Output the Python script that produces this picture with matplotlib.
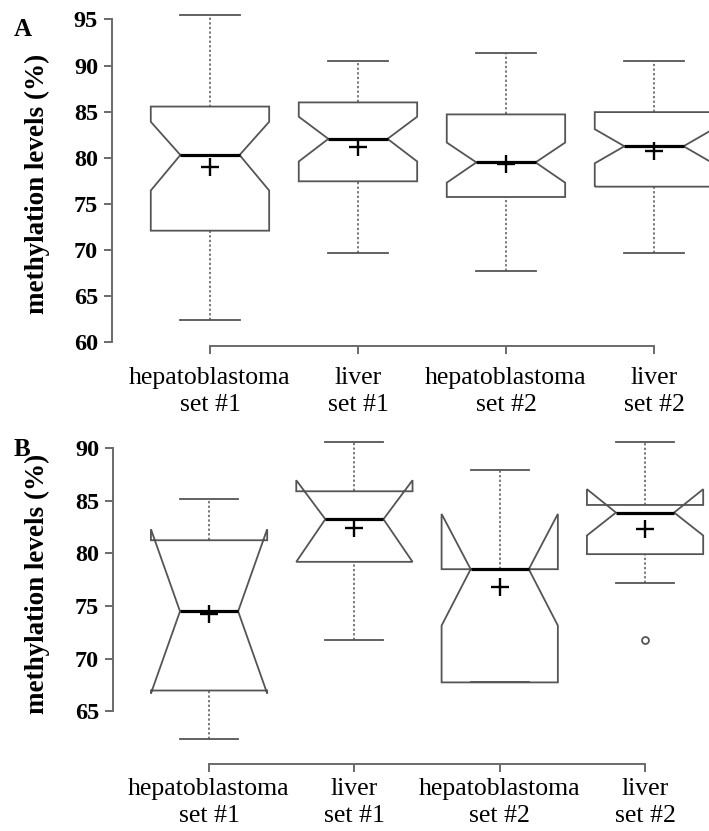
import matplotlib
matplotlib.use("Agg")
import matplotlib.pyplot as plt
from matplotlib.patches import Polygon

plt.rcParams['font.family'] = ['Liberation Serif', 'DejaVu Serif']

categories = ["hepatoblastoma\nset #1", "liver\nset #1", "hepatoblastoma\nset #2", "liver\nset #2"]

# Panel A statistics
a_whislo = [62.4, 69.65, 67.7, 69.65]
a_q1 = [72.1, 77.45, 75.75, 76.87]
a_notch_lo = [76.45, 79.6, 77.3, 79.4]
a_med = [80.3, 82.05, 79.5, 81.25]
a_notch_hi = [83.9, 84.45, 81.65, 83.1]
a_q3 = [85.55, 86.0, 84.7, 84.95]
a_whishi = [95.45, 90.5, 91.4, 90.5]
a_mean = [79.05, 81.15, 79.35, 80.7]
a_outliers = [[], [], [], []]
a_ticks = [60, 65, 70, 75, 80, 85, 90, 95]

# Panel B statistics
b_whislo = [62.35, 71.8, 67.75, 77.2]
b_q1 = [66.98, 79.2, 67.75, 79.93]
b_notch_lo = [66.7, 79.2, 73.15, 81.7]
b_med = [74.5, 83.25, 78.5, 83.88]
b_notch_hi = [82.3, 86.95, 83.75, 86.1]
b_q3 = [81.25, 85.9, 78.5, 84.6]
b_whishi = [85.2, 90.55, 87.9, 90.55]
b_mean = [74.2, 82.45, 76.8, 82.3]
b_outliers = [[], [], [], [71.8]]
b_ticks = [65, 70, 75, 80, 85, 90]

BOXC = '#555555'
AXC = '#6a6a6a'


def draw_panel(ax, whislo, q1, nlo, med, nhi, q3, whishi, mean, outliers, ticks, xpad):
    half = 0.4
    for i in range(len(med)):
        x = i + 1
        xl, xr = x - half, x + half
        ml, mr = x - half / 2, x + half / 2
        # whiskers
        ax.plot([x, x], [q3[i], whishi[i]], color=BOXC, lw=1.1, ls=(0, (1.5, 1.5)), zorder=1)
        ax.plot([x, x], [whislo[i], q1[i]], color=BOXC, lw=1.1, ls=(0, (1.5, 1.5)), zorder=1)
        # caps
        ax.plot([x - half / 2, x + half / 2], [whishi[i]] * 2, color=BOXC, lw=1.3, zorder=2)
        ax.plot([x - half / 2, x + half / 2], [whislo[i]] * 2, color=BOXC, lw=1.3, zorder=2)
        # notched box outline (R style polygon)
        xs = [xl, xl, ml, xl, xl, xr, xr, mr, xr, xr]
        ys = [q1[i], nlo[i], med[i], nhi[i], q3[i], q3[i], nhi[i], med[i], nlo[i], q1[i]]
        poly = Polygon(list(zip(xs, ys)), closed=True, facecolor='none',
                       edgecolor=BOXC, lw=1.3, joinstyle='miter', zorder=3)
        ax.add_patch(poly)
        # median
        ax.plot([ml, mr], [med[i]] * 2, color='black', lw=2.3, solid_capstyle='butt', zorder=4)
        # mean
        ax.plot([x], [mean[i]], marker='+', color='black', ms=13, mew=1.7, zorder=5)
        for o in outliers[i]:
            ax.plot([x], [o], marker='o', mfc='none', mec=BOXC, ms=5, mew=1.3, zorder=5)

    for s in ['top', 'right']:
        ax.spines[s].set_visible(False)
    ax.spines['left'].set_bounds(ticks[0], ticks[-1])
    ax.spines['bottom'].set_bounds(1, 4)
    for s in ['left', 'bottom']:
        ax.spines[s].set_color(AXC)
        ax.spines[s].set_linewidth(1.4)
    ax.set_yticks(ticks)
    ax.set_yticklabels([str(t) for t in ticks], fontsize=17.5, fontweight='bold')
    ax.set_xticks([1, 2, 3, 4])
    ax.set_xticklabels(categories, fontsize=18.5, linespacing=1.3)
    ax.tick_params(axis='both', color=AXC, width=1.4, length=6)
    ax.tick_params(axis='y', pad=4)
    ax.tick_params(axis='x', pad=xpad)
    ax.set_ylabel('methylation levels (%)', fontsize=19.5, fontweight='bold')


fig = plt.figure(figsize=(7.09, 8.31), dpi=100)

W, H = 709.0, 831.0
axA = fig.add_axes([112 / W, (H - 346) / H, (W - 112) / W, 346 / H])
draw_panel(axA, a_whislo, a_q1, a_notch_lo, a_med, a_notch_hi, a_q3, a_whishi, a_mean, a_outliers, a_ticks, 9)
axA.set_xlim(0.338, 4.372)
axA.set_ylim(59.6, 97.1)
axA.yaxis.set_label_coords(-0.104, 0.47)

axB = fig.add_axes([113 / W, (H - 764) / H, (W - 113) / W, 334 / H])
draw_panel(axB, b_whislo, b_q1, b_notch_lo, b_med, b_notch_hi, b_q3, b_whishi, b_mean, b_outliers, b_ticks, 4)
axB.set_xlim(0.339, 4.44)
axB.set_ylim(60.0, 91.72)
axB.yaxis.set_label_coords(-0.105, 0.54)

fig.text(23 / W, 1 - 29 / H, 'A', fontsize=18, fontweight='bold', ha='center', va='center')
fig.text(22 / W, 1 - 449 / H, 'B', fontsize=18, fontweight='bold', ha='center', va='center')

fig.savefig('out.png', dpi=100, facecolor='white')
